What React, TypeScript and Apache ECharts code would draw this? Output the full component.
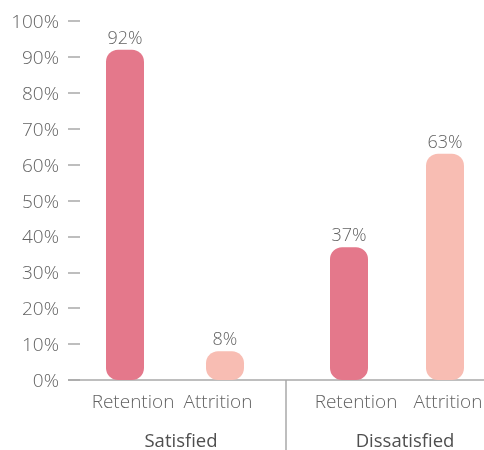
import React, { useEffect, useRef } from "react";
import * as echarts from "echarts";

const groups = ["Satisfied", "Dissatisfied"];
const categories = ["Retention", "Attrition"];
const satisfiedValues = [92, 8];
const dissatisfiedValues = [37, 63];
const yTicks = [0, 10, 20, 30, 40, 50, 60, 70, 80, 90, 100];

const barColors = ["#E4788B", "#F8BDB3"];
const FONT = "'Open Sans', 'Noto Sans', sans-serif";
const TEXT = "#636363";

export default function App() {
  const ref = useRef<HTMLDivElement>(null);
  useEffect(() => {
    if (!ref.current) return;
    const chart = echarts.init(ref.current, undefined, { renderer: "svg" });
    const mk = (vals: number[]) =>
      vals.map((v, i) => ({ value: v, itemStyle: { color: barColors[i] } }));
    const catText = { color: TEXT, fontSize: 19, fontWeight: 300, fontFamily: FONT };
    // per-grid label shifts (padding [top,right,bottom,left])
    const labelPads = [
      [[0, 0, 0, 16], [0, 14, 0, 0]],
      [[0, 0, 0, 14], [0, 0, 0, 6]],
    ];
    const makeXAxis = (gi: number) => ({
      type: "category" as const,
      gridIndex: gi,
      data: categories,
      axisLine: { show: false },
      axisTick: { show: false },
      axisLabel: {
        ...catText,
        margin: 11,
        interval: 0,
        formatter: (v: string, i: number) => `{c${i}|${v}}`,
        rich: {
          c0: { ...catText, padding: labelPads[gi][0] },
          c1: { ...catText, padding: labelPads[gi][1] },
        },
      },
    });
    const groupLabelPos = [
      { x: 181, y: 439 },
      { x: 405, y: 439 },
    ];
    const valueLabel = {
      show: true,
      position: "top" as const,
      distance: 4,
      color: TEXT,
      fontSize: 18,
      fontWeight: 300,
      fontFamily: FONT,
      formatter: "{c}%",
    };
    chart.setOption({
      animation: false,
      textStyle: { fontFamily: FONT },
      grid: [
        { left: 75, top: 21, width: 200, height: 359 },
        { left: 301, top: 21, width: 192, height: 359 },
      ],
      xAxis: [makeXAxis(0), makeXAxis(1)],
      yAxis: [
        {
          type: "value",
          gridIndex: 0,
          min: yTicks[0],
          max: yTicks[yTicks.length - 1],
          interval: 10,
          offset: -5,
          splitLine: { show: false },
          axisLine: { show: false },
          axisTick: { show: true, length: 12, lineStyle: { color: "#a8a8a8", width: 1.5 } },
          axisLabel: {
            color: TEXT,
            fontSize: 19,
            fontWeight: 300,
            fontFamily: FONT,
            margin: 21,
            formatter: "{value}%",
          },
        },
        {
          type: "value",
          gridIndex: 1,
          min: 0,
          max: 100,
          interval: 10,
          show: false,
          splitLine: { show: false },
        },
      ],
      series: [
        {
          type: "bar",
          xAxisIndex: 0,
          yAxisIndex: 0,
          data: mk(satisfiedValues),
          barWidth: 38,
          itemStyle: { borderRadius: 12 },
          label: valueLabel,
        },
        {
          type: "bar",
          xAxisIndex: 1,
          yAxisIndex: 1,
          data: mk(dissatisfiedValues),
          barWidth: 38,
          itemStyle: { borderRadius: 12 },
          label: valueLabel,
        },
      ],
      graphic: [
        {
          type: "line",
          shape: { x1: 68, y1: 380, x2: 484, y2: 380 },
          style: { stroke: "#a8a8a8", lineWidth: 1.5 },
          silent: true,
        },
        {
          type: "line",
          shape: { x1: 286, y1: 380, x2: 286, y2: 450 },
          style: { stroke: "#a8a8a8", lineWidth: 1.5 },
          silent: true,
        },
        ...groups.map((g, i) => ({
          type: "text",
          x: groupLabelPos[i].x,
          y: groupLabelPos[i].y,
          style: {
            text: g,
            fill: "#4f4f4f",
            font: `18.5px ${FONT}`,
            textAlign: "center",
            textVerticalAlign: "middle",
          },
          silent: true,
        })),
      ],
    });
    return () => chart.dispose();
  }, []);
  return (
    <div
      style={{
        position: "fixed",
        left: 0,
        top: 0,
        width: 484,
        height: 450,
        overflow: "hidden",
      }}
    >
      <div ref={ref} style={{ width: 500, height: 450 }} />
    </div>
  );
}
